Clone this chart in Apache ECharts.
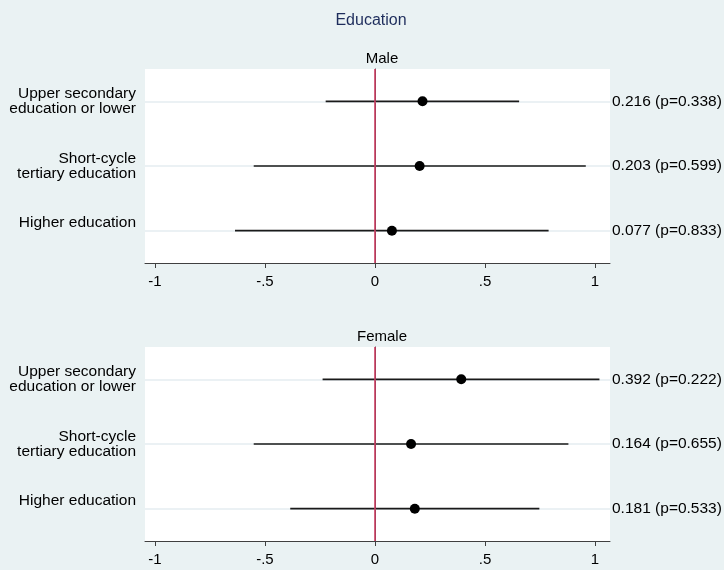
<!DOCTYPE html>
<html>
<head>
<meta charset="utf-8">
<script src="https://cdn.jsdelivr.net/npm/echarts@6/dist/echarts.min.js"></script>
<style>
html,body{margin:0;padding:0;background:#eaf2f3;}
#chart{width:724px;height:570px;}
</style>
</head>
<body>
<div id="chart"></div>
<script>
var categories = ["Upper secondary\neducation or lower", "Short-cycle\ntertiary education", "Higher education"];
var panels = ["Male", "Female"];
var maleEst = [0.216, 0.203, 0.077];
var maleP = [0.338, 0.599, 0.833];
var maleLo = [-0.224, -0.551, -0.636];
var maleHi = [0.655, 0.958, 0.789];
var femaleEst = [0.392, 0.164, 0.181];
var femaleP = [0.222, 0.655, 0.533];
var femaleLo = [-0.238, -0.551, -0.385];
var femaleHi = [1.02, 0.879, 0.747];
var xTicks = [-1, -0.5, 0, 0.5, 1];
var rowPos = [1, 2, 3];

var FONT = '"Liberation Sans", Arial, sans-serif';
var est = [maleEst, femaleEst], pv = [maleP, femaleP], lo = [maleLo, femaleLo], hi = [maleHi, femaleHi];
var gridTops = [69, 347];

function fmtX(v) {
  if (v === 0) return '0';
  var s = String(v);
  return s.replace(/^(-?)0\./, '$1.');
}

var grids = [], xAxes = [], yAxes = [], series = [], titles = [];
titles.push({text: 'Education', left: 366, top: 8, textAlign: 'center',
  textStyle: {fontFamily: FONT, fontSize: 16, fontWeight: 'normal', color: '#1e2d5c'}});

for (var g = 0; g < 2; g++) {
  grids.push({left: 145, right: 114, top: gridTops[g], height: 194, show: true,
    outerBoundsMode: 'none', containLabel: false,
    backgroundColor: '#ffffff', borderWidth: 0});
  titles.push({text: panels[g], left: 377, top: gridTops[g] - 23, textAlign: 'center',
    textStyle: {fontFamily: FONT, fontSize: 15, fontWeight: 'normal', color: '#000'}});
  xAxes.push({type: 'value', gridIndex: g, min: -1.045, max: 1.068,
    axisLine: {show: true, lineStyle: {color: '#404040', width: 1}},
    axisTick: {show: true, length: 5, customValues: xTicks, lineStyle: {color: '#404040'}},
    axisLabel: {customValues: xTicks, formatter: fmtX, margin: 11, fontFamily: FONT, fontSize: 15, color: '#000'},
    splitLine: {show: false}});
  (function (gi) {
    yAxes.push({type: 'value', gridIndex: gi, min: 0.5, max: 3.5, inverse: true, position: 'left',
      axisLine: {show: true, lineStyle: {color: '#404040', width: 1}},
      axisTick: {show: true, length: 4, customValues: rowPos, lineStyle: {color: '#404040'}},
      axisLabel: {customValues: rowPos, margin: 9, fontFamily: FONT, fontSize: 15.5, color: '#000',
        lineHeight: 15, align: 'right',
        formatter: function (v) {
          var c = categories[Math.round(v) - 1];
          return c.indexOf('\n') < 0 ? c + '\n ' : c;
        }},
      splitLine: {show: false}});
    yAxes.push({type: 'value', gridIndex: gi, min: 0.5, max: 3.5, inverse: true, position: 'right',
      axisLine: {show: false}, axisTick: {show: false},
      axisLabel: {customValues: rowPos, margin: 2, fontFamily: FONT, fontSize: 15.5, color: '#000',
        formatter: function (v) {
          var i = Math.round(v) - 1;
          return est[gi][i].toFixed(3) + ' (p=' + pv[gi][i].toFixed(3) + ')';
        }},
      splitLine: {show: false}});
  })(g);

  var yIdx = g * 2;
  // grid lines at rows
  series.push({type: 'line', xAxisIndex: g, yAxisIndex: yIdx, data: [], z: 1, silent: true,
    markLine: {silent: true, symbol: 'none', label: {show: false}, animation: false, z: 1,
      lineStyle: {color: '#e4ecf0', width: 1.5, type: 'solid'},
      data: rowPos.map(function (r) { return {yAxis: r}; })}});
  // CIs
  var ciData = [];
  for (var i = 0; i < 3; i++) ciData.push([lo[g][i], rowPos[i], hi[g][i]]);
  series.push({type: 'custom', xAxisIndex: g, yAxisIndex: yIdx, z: 2, silent: true,
    encode: {x: [0, 2], y: 1}, data: ciData,
    renderItem: function (params, api) {
      var p1 = api.coord([api.value(0), api.value(1)]);
      var p2 = api.coord([api.value(2), api.value(1)]);
      return {type: 'line', shape: {x1: p1[0], y1: p1[1], x2: p2[0], y2: p2[1]},
        style: {stroke: '#1a1a1a', lineWidth: 1.6}};
    }});
  // zero line
  series.push({type: 'line', xAxisIndex: g, yAxisIndex: yIdx, data: [], z: 3, silent: true,
    markLine: {silent: true, symbol: 'none', label: {show: false}, animation: false, z: 3,
      lineStyle: {color: '#cc3d62', width: 1.6, type: 'solid'},
      data: [{xAxis: 0}]}});
  // estimates
  var ptData = [];
  for (var j = 0; j < 3; j++) ptData.push([est[g][j], rowPos[j]]);
  series.push({type: 'scatter', xAxisIndex: g, yAxisIndex: yIdx, z: 4, data: ptData,
    symbol: 'circle', symbolSize: 10, itemStyle: {color: '#000', opacity: 1}, silent: true});
}

var chart = echarts.init(document.getElementById('chart'), null, {renderer: 'canvas'});
chart.setOption({
  backgroundColor: '#eaf2f3',
  animation: false,
  title: titles,
  grid: grids,
  xAxis: xAxes,
  yAxis: yAxes,
  series: series
});
</script>
</body>
</html>
